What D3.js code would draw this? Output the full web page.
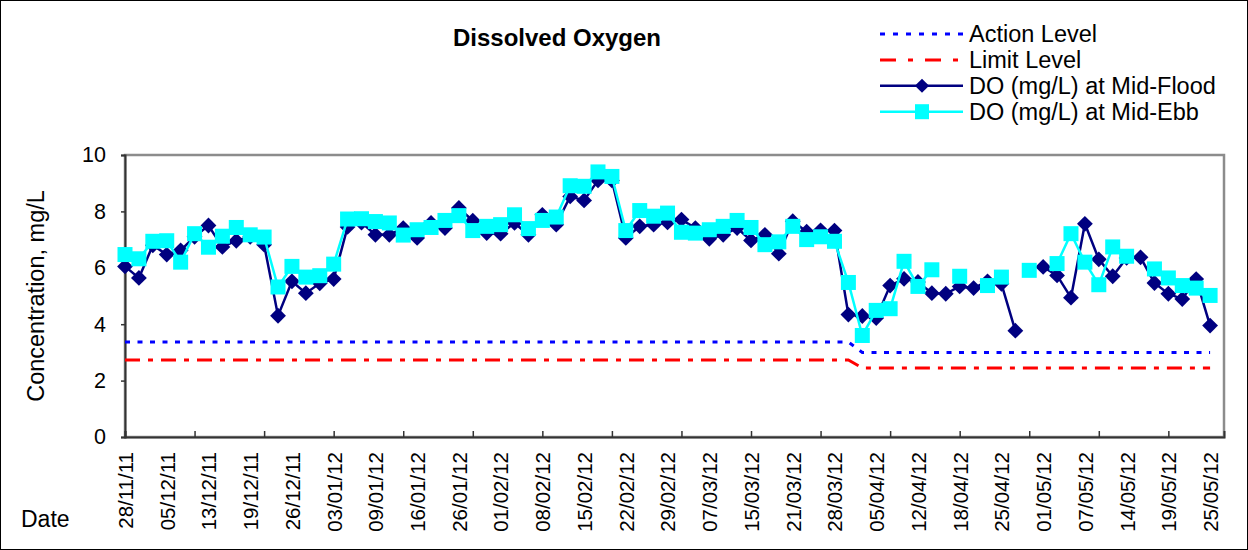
<!DOCTYPE html>
<html>
<head>
<meta charset="utf-8">
<script src="https://cdn.jsdelivr.net/npm/d3@7"></script>
<style>
  body { margin: 0; background: #fff; }
  svg { display: block; font-family: Arial, "Liberation Sans", sans-serif; }
</style>
</head>
<body>
<div id="chart"></div>
<script>
// date labels shown on the axis (every 3rd sampling day)
const dateLabels = ["28/11/11", "05/12/11", "13/12/11", "19/12/11", "26/12/11", "03/01/12", "09/01/12",
  "16/01/12", "26/01/12", "01/02/12", "08/02/12", "15/02/12", "22/02/12", "29/02/12", "07/03/12",
  "15/03/12", "21/03/12", "28/03/12", "05/04/12", "12/04/12", "18/04/12", "25/04/12", "01/05/12",
  "07/05/12", "14/05/12", "19/05/12", "25/05/12"];
const nCategories = 80;

// DO (mg/L) at Mid-Flood, one value per sampling day (null = no data)
const doFlood = [6.05, 5.64, 6.8, 6.47, 6.62, 7.1, 7.5, 6.74, 6.96, 7.1,
  6.82, 4.3, 5.52, 5.1, 5.45, 5.6, 7.45, 7.6, 7.17, 7.17,
  7.41, 7.06, 7.59, 7.41, 8.12, 7.67, 7.23, 7.21, 7.59, 7.17,
  7.88, 7.53, 8.53, 8.39, 9.1, 9.1, 7.06, 7.47, 7.53, 7.61,
  7.71, 7.41, 7.03, 7.17, 7.41, 6.97, 7.17, 6.5, 7.65, 7.28,
  7.33, 7.32, 4.34, 4.29, 4.22, 5.37, 5.61, 5.5, 5.1, 5.08,
  5.34, 5.28, 5.52, 5.43, 3.77, null, 6.03, 5.73, 4.94, 7.56,
  6.3, 5.7, 6.35, 6.37, 5.46, 5.08, 4.89, 5.6, 3.95];

// DO (mg/L) at Mid-Ebb
const doEbb = [6.47, 6.32, 6.94, 6.96, 6.2, 7.21, 6.73, 7.12, 7.43, 7.17,
  7.09, 5.32, 6.05, 5.67, 5.72, 6.13, 7.73, 7.74, 7.64, 7.59,
  7.16, 7.35, 7.43, 7.68, 7.85, 7.32, 7.47, 7.53, 7.88, 7.39,
  7.68, 7.8, 8.91, 8.89, 9.4, 9.24, 7.32, 8.03, 7.83, 7.94,
  7.26, 7.23, 7.35, 7.47, 7.68, 7.43, 6.82, 6.92, 7.47, 7.0,
  7.1, 6.94, 5.48, 3.6, 4.49, 4.55, 6.23, 5.34, 5.93, null,
  5.7, null, 5.37, 5.67, null, 5.91, null, 6.15, 7.21, 6.2,
  5.4, 6.74, 6.41, null, 5.96, 5.64, 5.37, 5.28, 5.02];

// level lines as [category index, value] corners
const actionLevel = [[0, 3.37], [52, 3.37], [53, 3.0], [78, 3.0]];
const limitLevel = [[0, 2.73], [52, 2.73], [53, 2.45], [78, 2.45]];

const yTicks = [0, 2, 4, 6, 8, 10];

const W = 1248, H = 550;
const plot = { left: 125, right: 1224, top: 155, bottom: 437 };

const svg = d3.select("#chart").append("svg")
  .attr("width", W)
  .attr("height", H);

svg.append("rect")
  .attr("x", 0.5).attr("y", 0.5)
  .attr("width", W - 1).attr("height", H - 1)
  .attr("fill", "#fff")
  .attr("stroke", "#000");

const x = d3.scalePoint()
  .domain(d3.range(nCategories))
  .range([plot.left, plot.right]);

const y = d3.scaleLinear()
  .domain([0, 10])
  .range([plot.bottom, plot.top]);

// plot area frame
svg.append("rect")
  .attr("x", plot.left).attr("y", plot.top)
  .attr("width", plot.right - plot.left)
  .attr("height", plot.bottom - plot.top)
  .attr("fill", "none")
  .attr("stroke", "#8c8c8c")
  .attr("stroke-width", 2.5);

// y axis
const yAxis = svg.append("g")
  .attr("transform", `translate(${plot.left},0)`)
  .call(d3.axisLeft(y).tickValues(yTicks).tickSize(4).tickPadding(15).tickFormat(d3.format("d")));
yAxis.select(".domain").attr("stroke", "#333").attr("stroke-width", 2);
yAxis.selectAll(".tick line").attr("stroke", "#333").attr("stroke-width", 1.5);
yAxis.selectAll(".tick text").attr("font-size", 21.5).attr("fill", "#000").attr("font-family", "Arial, 'Liberation Sans', sans-serif");

// x axis: tick marks every 5 days, labels every 3
const xAxis = svg.append("g")
  .attr("transform", `translate(0,${plot.bottom})`)
  .call(d3.axisBottom(x)
    .tickValues(d3.range(0, nCategories, 5))
    .tickSize(-6)
    .tickFormat(""));
xAxis.select(".domain").attr("stroke", "#333").attr("stroke-width", 2);
xAxis.selectAll(".tick line").attr("stroke", "#333").attr("stroke-width", 1.5);

const xLabels = svg.append("g")
  .attr("transform", `translate(0,${plot.bottom})`)
  .call(d3.axisBottom(x)
    .tickValues(d3.range(0, nCategories, 3).slice(0, dateLabels.length))
    .tickSize(0)
    .tickFormat(i => dateLabels[i / 3]));
xLabels.select(".domain").remove();
xLabels.selectAll(".tick text")
  .attr("font-size", 20.5)
  .attr("fill", "#000")
  .attr("font-family", "Arial, 'Liberation Sans', sans-serif")
  .attr("text-anchor", "end")
  .attr("transform", "rotate(-90)")
  .attr("x", -15)
  .attr("y", 0)
  .attr("dy", "0.36em");

// level lines
const levelLine = d3.line()
  .x(d => x(d[0]))
  .y(d => y(d[1]));

svg.append("path")
  .attr("d", levelLine(actionLevel))
  .attr("fill", "none")
  .attr("stroke", "#0000ff")
  .attr("stroke-width", 3)
  .attr("stroke-dasharray", "5,7.5");

svg.append("path")
  .attr("d", levelLine(limitLevel))
  .attr("fill", "none")
  .attr("stroke", "#ff0000")
  .attr("stroke-width", 3)
  .attr("stroke-dasharray", "15,8,5,8");

// data series
const seriesLine = d3.line()
  .defined(d => d != null)
  .x((d, i) => x(i))
  .y(d => y(d));

const diamond = d3.symbol().type(d3.symbolSquare).size(125);

function drawFlood(g) {
  g.append("path")
    .attr("d", seriesLine(doFlood))
    .attr("fill", "none")
    .attr("stroke", "#000080")
    .attr("stroke-width", 2.5);
  g.selectAll("path.pt")
    .data(doFlood.map((v, i) => ({ v, i })).filter(d => d.v != null))
    .join("path")
    .attr("class", "pt")
    .attr("d", diamond)
    .attr("transform", d => `translate(${x(d.i)},${y(d.v)}) rotate(45)`)
    .attr("fill", "#000080");
}

function drawEbb(g) {
  g.append("path")
    .attr("d", seriesLine(doEbb))
    .attr("fill", "none")
    .attr("stroke", "#00ffff")
    .attr("stroke-width", 2.5);
  g.selectAll("rect.pt")
    .data(doEbb.map((v, i) => ({ v, i })).filter(d => d.v != null))
    .join("rect")
    .attr("class", "pt")
    .attr("x", d => x(d.i) - 7.5)
    .attr("y", d => y(d.v) - 7.5)
    .attr("width", 15)
    .attr("height", 15)
    .attr("fill", "#00ffff");
}

drawFlood(svg.append("g"));
drawEbb(svg.append("g"));

// title
svg.append("text")
  .attr("x", 557).attr("y", 46)
  .attr("text-anchor", "middle")
  .attr("font-size", 24)
  .attr("font-weight", "bold")
  .text("Dissolved Oxygen");

// axis titles
svg.append("text")
  .attr("transform", "translate(44,296) rotate(-90)")
  .attr("text-anchor", "middle")
  .attr("font-size", 23.5)
  .text("Concentration, mg/L");

svg.append("text")
  .attr("x", 21).attr("y", 527)
  .attr("font-size", 23)
  .text("Date");

// legend
const legendItems = [
  { name: "Action Level", key: "action" },
  { name: "Limit Level", key: "limit" },
  { name: "DO (mg/L) at Mid-Flood", key: "flood" },
  { name: "DO (mg/L) at Mid-Ebb", key: "ebb" }
];

const legend = svg.append("g").attr("transform", "translate(880,34)");
legendItems.forEach((item, k) => {
  const row = legend.append("g").attr("transform", `translate(0,${k * 25.9})`);
  const ln = row.append("line")
    .attr("x1", 0).attr("x2", 83)
    .attr("y1", 0).attr("y2", 0);
  if (item.key === "action") {
    ln.attr("stroke", "#0000ff").attr("stroke-width", 3).attr("stroke-dasharray", "5,8");
  } else if (item.key === "limit") {
    ln.attr("stroke", "#ff0000").attr("stroke-width", 3).attr("stroke-dasharray", "16,12,5,12");
  } else if (item.key === "flood") {
    ln.attr("stroke", "#000080").attr("stroke-width", 2.5);
    row.append("path")
      .attr("d", d3.symbol().type(d3.symbolSquare).size(100))
      .attr("transform", "translate(42,0) rotate(45)")
      .attr("fill", "#000080");
  } else {
    ln.attr("stroke", "#00ffff").attr("stroke-width", 2.5);
    row.append("rect")
      .attr("x", 35).attr("y", -7.5)
      .attr("width", 14).attr("height", 15)
      .attr("fill", "#00ffff");
  }
  row.append("text")
    .attr("x", 89).attr("y", 0)
    .attr("dy", "0.36em")
    .attr("font-size", 23.5)
    .text(item.name);
});
</script>
</body>
</html>
